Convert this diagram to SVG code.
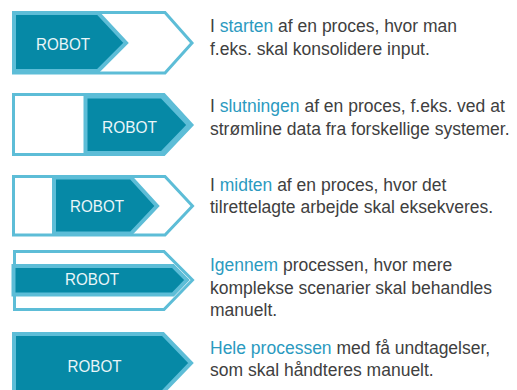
<svg xmlns="http://www.w3.org/2000/svg" width="517" height="390" viewBox="0 0 517 390">
<style>
.outer{fill:#ffffff;stroke:#5dbdd7;stroke-width:3;stroke-linejoin:miter}
.dark{fill:#0689a6;stroke:#5dbdd7;stroke-width:4;stroke-linejoin:miter}
.robot{font-family:"Liberation Sans",Arial,sans-serif;font-size:17px;fill:#eaf6f9;text-anchor:middle}
.desc{font-family:"Liberation Sans",Arial,sans-serif;font-size:17.5px;fill:#404040}
.hl{fill:#2b9ac0}
</style>
<rect width="517" height="390" fill="#ffffff"/>
<g id="row1">
<polygon class="outer" points="13.5,12.5 165,12.5 192,43 165,73 13.5,73"/>
<polygon class="dark" points="14,13 98,13 126,43 98,71 14,71"/>
<text class="robot" x="63" y="49.5" textLength="54" lengthAdjust="spacingAndGlyphs">ROBOT</text>
<text class="desc" x="210" y="32.3">I <tspan class="hl">starten</tspan> af en proces, hvor man</text>
<text class="desc" x="210" y="54.5">f.eks. skal konsolidere input.</text>
</g>
<g id="row2">
<polygon class="outer" points="13.5,94.5 164,94.5 192,125 164,154.5 13.5,154.5"/>
<polygon class="dark" points="85.5,96.5 162,96.5 189,125 162,153 85.5,153"/>
<text class="robot" x="129.5" y="132.5" textLength="55" lengthAdjust="spacingAndGlyphs">ROBOT</text>
<text class="desc" x="210" y="112.3">I <tspan class="hl">slutningen</tspan> af en proces, f.eks. ved at</text>
<text class="desc" x="210" y="135">strømline data fra forskellige systemer.</text>
</g>
<g id="row3">
<polygon class="outer" points="13.5,176.5 165,176.5 192.5,206 165,235 13.5,235"/>
<polygon class="dark" points="54,177.5 131,177.5 157,206 131,233.5 54,233.5"/>
<text class="robot" x="97" y="211.5" textLength="54" lengthAdjust="spacingAndGlyphs">ROBOT</text>
<text class="desc" x="210" y="190.7">I <tspan class="hl">midten</tspan> af en proces, hvor det</text>
<text class="desc" x="210" y="213">tilrettelagte arbejde skal eksekveres.</text>
</g>
<g id="row4">
<polygon class="outer" points="14.5,251.5 164,251.5 192.5,280 164,309.5 14.5,309.5"/>
<polygon class="dark" points="13.5,266 173,266 187,280 173,294.5 13.5,294.5"/>
<text class="robot" x="92" y="285" textLength="54" lengthAdjust="spacingAndGlyphs">ROBOT</text>
<text class="desc" x="210" y="271"><tspan class="hl">Igennem</tspan> processen, hvor mere</text>
<text class="desc" x="210" y="293.5">komplekse scenarier skal behandles</text>
<text class="desc" x="210" y="316">manuelt.</text>
</g>
<g id="row5">
<polygon class="dark" points="14,334 163,334 191,363 163,392 14,392"/>
<text class="robot" x="94.5" y="371.5" textLength="54" lengthAdjust="spacingAndGlyphs">ROBOT</text>
<text class="desc" x="210" y="354"><tspan class="hl">Hele processen</tspan> med få undtagelser,</text>
<text class="desc" x="210" y="376">som skal håndteres manuelt.</text>
</g>
<g id="connectors"/>
</svg>
